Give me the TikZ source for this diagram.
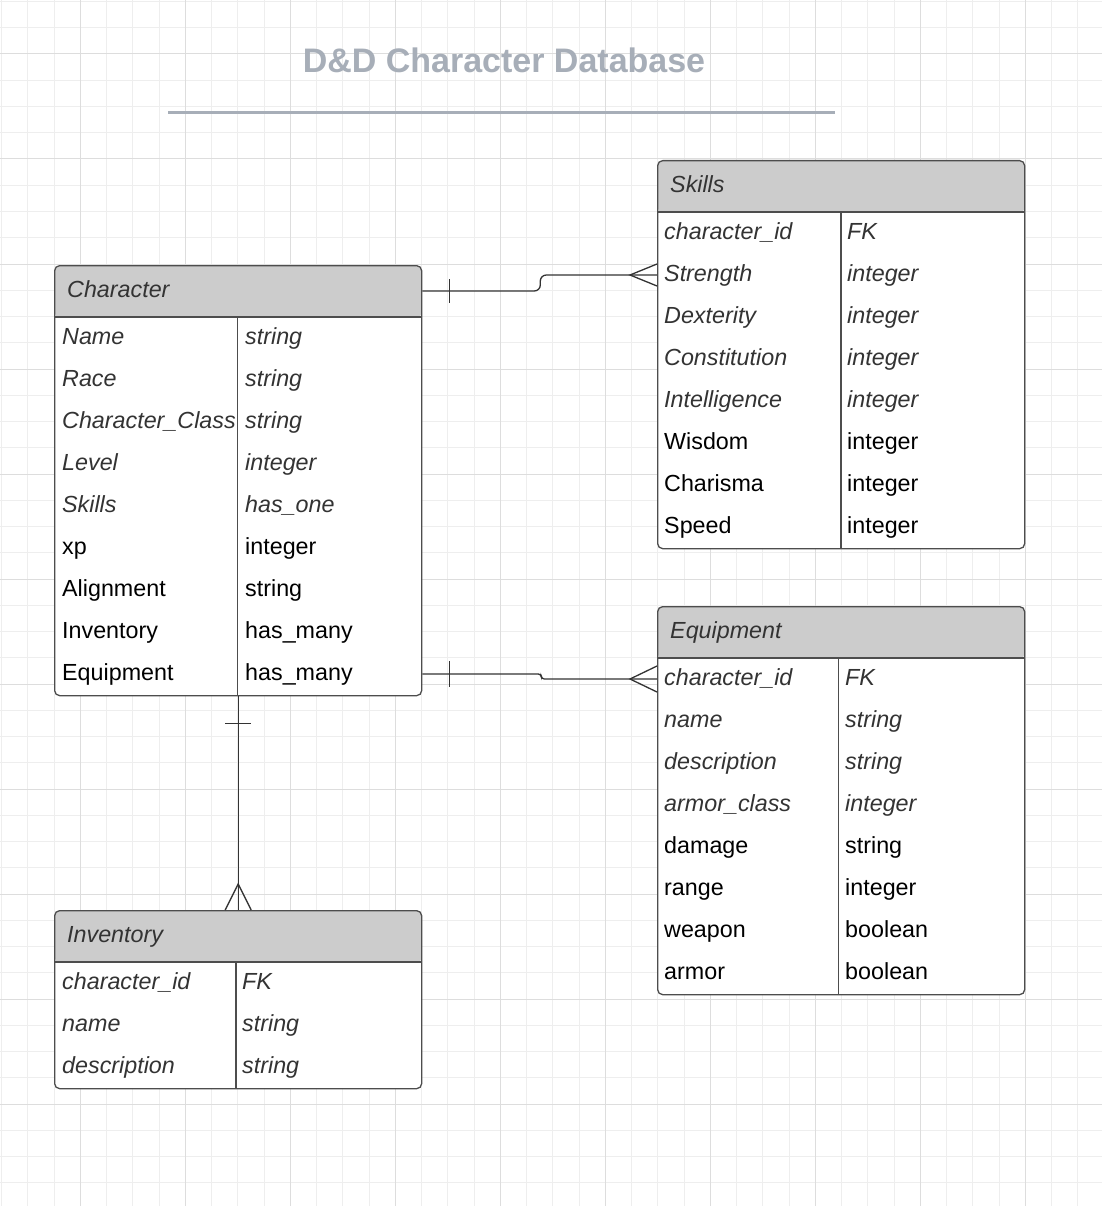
\documentclass[tikz,border=0pt]{standalone}
\usepackage{fontspec}
\setmainfont{Liberation Sans}
\usetikzlibrary{calc}
\definecolor{gridlo}{HTML}{EEEEEE}
\definecolor{gridhi}{HTML}{DDDDDD}
\definecolor{ink}{HTML}{333333}
\definecolor{rim}{HTML}{4D4D4D}
\definecolor{headgray}{HTML}{CCCCCC}
\definecolor{slate}{HTML}{A7AEB8}
\tikzstyle{tbl}=[draw=rim,line width=1.3pt,fill=white,rounded corners=5pt,inner sep=0pt,minimum width=367pt,anchor=north west,
  path picture={\fill[headgray] (path picture bounding box.north west) rectangle ([yshift=-52pt]path picture bounding box.north east);}]
\tikzstyle{cell}=[anchor=west,inner sep=0pt,text height=18pt,text depth=5pt,font=\fontsize{23.3}{28}\selectfont]
\tikzstyle{ital}=[text=ink,font=\fontsize{23.3}{28}\selectfont\itshape]
\tikzstyle{roman}=[text=black]
\tikzstyle{sep}=[draw=rim,line width=1.3pt]
\tikzstyle{rel}=[draw=ink,line width=1.3pt]
\tikzstyle{title}=[text=slate,inner sep=0pt,font=\fontsize{34}{40}\selectfont\bfseries]

\begin{document}
\begin{tikzpicture}[x=1pt,y=-1pt]
\fill[white] (0,0) rectangle (1102,1206);
\useasboundingbox (0,0) rectangle (1102,1206);
\foreach \k in {0,...,41} \draw[gridlo,line width=1pt] (1.5+26.25*\k,0) -- (1.5+26.25*\k,1206);
\foreach \k in {0,...,45} \draw[gridlo,line width=1pt] (0,1.5+26.25*\k) -- (1102,1.5+26.25*\k);
\foreach \k in {0,...,9} \draw[gridhi,line width=1pt] (80.25+105*\k,0) -- (80.25+105*\k,1206);
\foreach \k in {0,...,10} \draw[gridhi,line width=1pt] (0,54+105*\k) -- (1102,54+105*\k);

\node[title] (ttl) at (504,60) {D\&D Character Database};
\draw[slate,line width=3pt] (168,113) -- (835,113);

% Character
\node[tbl,minimum height=430pt] (chr) at (54,265) {};
\draw[sep] (54,317) -- (421,317) (237.5,317) -- (237.5,695);
\node[cell,ital] (chr-h) at (67,291) {Character};
\foreach \a/\b/\f [count=\i] in {Name/string/ital, Race/string/ital, Character\_Class/string/ital, Level/integer/ital, Skills/has\_one/ital,
    xp/integer/roman, Alignment/string/roman, Inventory/has\_many/roman, Equipment/has\_many/roman} {
  \node[cell,\f] (chr-n\i) at (62,296+42*\i) {\a};
  \node[cell,\f] (chr-t\i) at (245,296+42*\i) {\b};}

% Skills
\node[tbl,minimum height=388pt] (skl) at (657,160) {};
\draw[sep] (657,212) -- (1024,212) (841,212) -- (841,548);
\node[cell,ital] (skl-h) at (670,186) {Skills};
\foreach \a/\b/\f [count=\i] in {character\_id/FK/ital, Strength/integer/ital, Dexterity/integer/ital, Constitution/integer/ital,
    Intelligence/integer/ital, Wisdom/integer/roman, Charisma/integer/roman, Speed/integer/roman} {
  \node[cell,\f] (skl-n\i) at (664,191+42*\i) {\a};
  \node[cell,\f] (skl-t\i) at (847,191+42*\i) {\b};}

% Equipment
\node[tbl,minimum height=388pt] (eqp) at (657,606) {};
\draw[sep] (657,658) -- (1024,658) (838.5,658) -- (838.5,994);
\node[cell,ital] (eqp-h) at (670,632) {Equipment};
\foreach \a/\b/\f [count=\i] in {character\_id/FK/ital, name/string/ital, description/string/ital, armor\_class/integer/ital,
    damage/string/roman, range/integer/roman, weapon/boolean/roman, armor/boolean/roman} {
  \node[cell,\f] (eqp-n\i) at (664,637+42*\i) {\a};
  \node[cell,\f] (eqp-t\i) at (845,637+42*\i) {\b};}

% Inventory
\node[tbl,minimum height=178pt] (inv) at (54,910) {};
\draw[sep] (54,962) -- (421,962) (236,962) -- (236,1088);
\node[cell,ital] (inv-h) at (67,936) {Inventory};
\foreach \a/\b/\f [count=\i] in {character\_id/FK/ital, name/string/ital, description/string/ital} {
  \node[cell,\f] (inv-n\i) at (62,941+42*\i) {\a};
  \node[cell,\f] (inv-t\i) at (242,941+42*\i) {\b};}

% relations
\coordinate (c1) at (chr-h -| chr.east);
\coordinate (s1) at (skl-n2 -| skl.west);
\draw[rel,rounded corners=6pt] (c1) -- ++(118,0) |- (s1);
\draw[rel] ($(c1)+(27,-12)$) -- ($(c1)+(27,12)$);
\draw[rel] ($(s1)+(0,-11)$) -- ($(s1)+(-27,0)$) -- ($(s1)+(0,11)$);

\coordinate (c2) at (chr-t9 -| chr.east);
\coordinate (e1) at (eqp-n1 -| eqp.west);
\draw[rel,rounded corners=3pt] (c2) -- ++(119,0) |- (e1);
\draw[rel] ($(c2)+(27,-13)$) -- ($(c2)+(27,13)$);
\draw[rel] ($(e1)+(0,-13)$) -- ($(e1)+(-27,0)$) -- ($(e1)+(0,13)$);

\draw[rel] (chr.south) -- (inv.north);
\draw[rel] ($(chr.south)+(-13,27)$) -- ($(chr.south)+(13,27)$);
\draw[rel] ($(inv.north)+(-13,0)$) -- ($(inv.north)+(0,-26)$) -- ($(inv.north)+(13,0)$);
\end{tikzpicture}
\end{document}
